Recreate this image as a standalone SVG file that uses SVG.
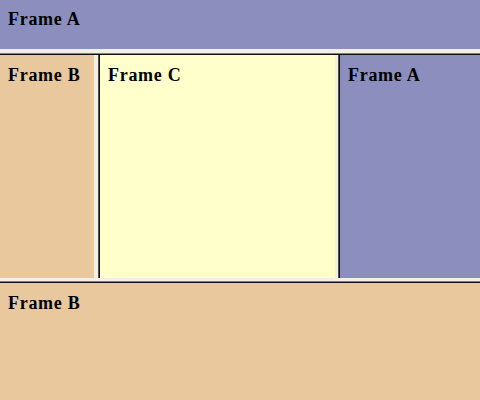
<svg xmlns="http://www.w3.org/2000/svg" width="480" height="400" viewBox="0 0 480 400">
<style>
.a{fill:#8c8fbe}
.b{fill:#eac89e}
.c{fill:#ffffcc}
.lt{fill:#f2f0e4}
.dk{fill:#111}
text{font-family:"Liberation Serif","Times New Roman",serif;font-weight:bold;font-size:18px;letter-spacing:0.7px;fill:#000}
</style>
<rect x="0" y="0" width="480" height="400" class="lt"/>
<g id="frameA-top">
<rect x="0" y="0" width="480" height="49" class="a"/>
<text x="8" y="25">Frame A</text>
</g>
<g id="frameB-left">
<rect x="0" y="55" width="94" height="223" class="b"/>
<text x="8" y="81">Frame B</text>
</g>
<g id="frameC">
<rect x="100" y="55" width="235" height="223" class="c"/>
<text x="108" y="81">Frame C</text>
</g>
<g id="frameA-right">
<rect x="340" y="55" width="140" height="223" class="a"/>
<text x="348" y="81">Frame A</text>
</g>
<g id="frameB-bottom">
<rect x="0" y="283" width="480" height="117" class="b"/>
<text x="8" y="309">Frame B</text>
</g>
<g id="connectors">
<rect x="0" y="53.5" width="480" height="1.5" class="dk"/>
<rect x="98.3" y="55" width="1.7" height="223" class="dk"/>
<rect x="338.3" y="55" width="1.7" height="223" class="dk"/>
<rect x="0" y="281.5" width="480" height="1.5" class="dk"/>
</g>
</svg>
